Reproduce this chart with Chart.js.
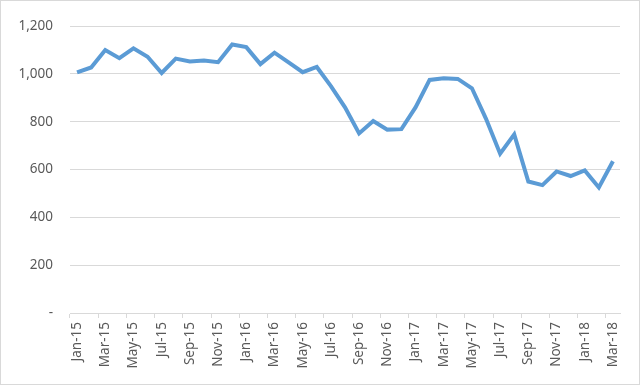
<!DOCTYPE html>
<html>
<head>
<meta charset="utf-8">
<script src="https://cdn.jsdelivr.net/npm/chart.js@4/dist/chart.umd.min.js"></script>
<style>
  body { margin: 0; background: #fff; }
  .frame { width: 640px; height: 385px; box-sizing: border-box; border: 1px solid #d9d9d9; }
</style>
</head>
<body>
<div class="frame"><canvas id="canvas" width="638" height="383"></canvas></div>
<script>
const months = [
    'Jan-15', 'Feb-15', 'Mar-15', 'Apr-15', 'May-15', 'Jun-15', 'Jul-15', 'Aug-15', 'Sep-15', 'Oct-15', 'Nov-15', 'Dec-15',
    'Jan-16', 'Feb-16', 'Mar-16', 'Apr-16', 'May-16', 'Jun-16', 'Jul-16', 'Aug-16', 'Sep-16', 'Oct-16', 'Nov-16', 'Dec-16',
    'Jan-17', 'Feb-17', 'Mar-17', 'Apr-17', 'May-17', 'Jun-17', 'Jul-17', 'Aug-17', 'Sep-17', 'Oct-17', 'Nov-17', 'Dec-17',
    'Jan-18', 'Feb-18', 'Mar-18'
];

const values = [
    1006, 1027, 1100, 1066, 1107, 1072, 1004, 1064, 1052, 1056, 1049, 1123,
    1112, 1041, 1089, 1048, 1007, 1029, 949, 860, 751, 803, 767, 769,
    860, 975, 982, 979, 940, 812, 666, 747, 550, 535, 592, 573,
    596, 525, 635
];

const yTicks = [0, 200, 400, 600, 800, 1000, 1200];

const gray = '#d9d9d9';
const textColor = '#595959';
const font = { family: 'Noto Sans', size: 13.5 };

const data = {
    labels: months,
    datasets: [
        {
            data: values,
            borderColor: '#5b9bd5',
            backgroundColor: '#5b9bd5',
            borderWidth: 4,
            pointRadius: 0,
            tension: 0,
        },
    ],
}

const config = {
    type: 'line',
    data: data,
    options: {
        responsive: false,
        animation: false,
        layout: { padding: { left: 0, right: 19, top: 19, bottom: 9 } },
        plugins: { legend: { display: false }, tooltip: { enabled: false } },
        scales: {
            x: {
                offset: true,
                grid: {
                    offset: true,
                    drawOnChartArea: false,
                    tickLength: 5,
                    color: (ctx) => (ctx.index % 2 === 0 ? gray : 'rgba(0,0,0,0)'),
                },
                border: { color: gray },
                ticks: {
                    autoSkip: false,
                    maxRotation: 90,
                    minRotation: 90,
                    padding: 4,
                    color: textColor,
                    font: font,
                    callback: function (value, index) {
                        return index % 2 === 0 ? months[index] : '';
                    },
                },
                afterFit: (scale) => { scale.height = 62; },
            },
            y: {
                min: yTicks[0],
                max: yTicks[yTicks.length - 1],
                afterBuildTicks: (scale) => { scale.ticks = yTicks.map((v) => ({ value: v })); },
                grid: { color: gray, drawTicks: false },
                border: { display: false },
                ticks: {
                    padding: 17,
                    color: textColor,
                    font: font,
                    callback: (v) => (v === 0 ? '-' : v.toLocaleString('en-US')),
                },
                afterFit: (scale) => { scale.width = 69; },
            },
        },
    },
}

const canvas = document.getElementById('canvas');
const chart = new Chart(canvas, config);
</script>
</body>
</html>
